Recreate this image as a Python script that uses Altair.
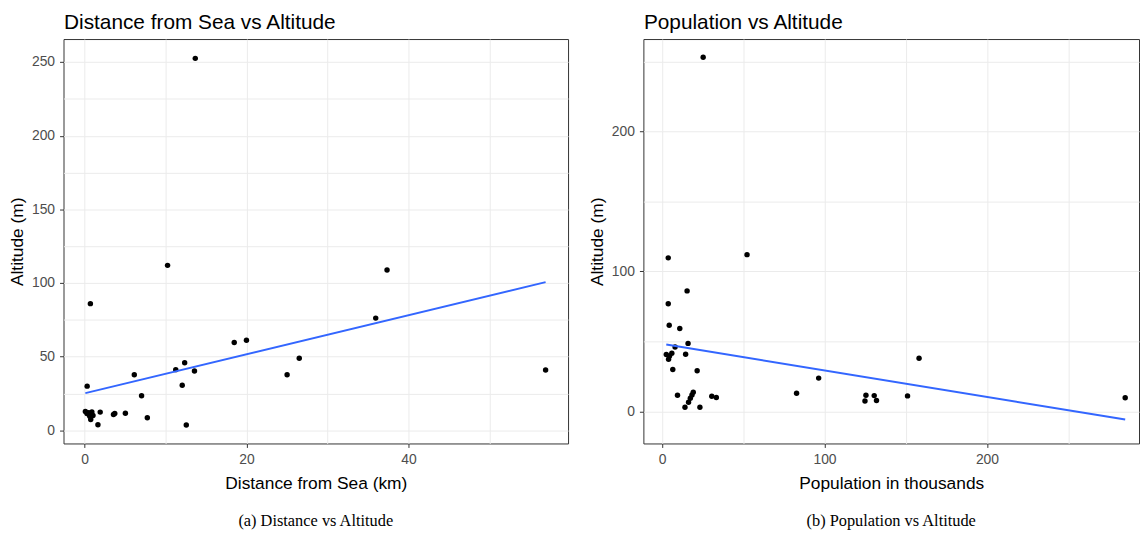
import altair as alt
import pandas as pd

# ---- data ----
dist_km = [13.67, 10.25, 37.35, 56.93, 0.72, 35.95, 18.48, 19.99, 26.51, 25.01,
           6.14, 12.36, 11.26, 13.57, 12.06, 0.32, 7.04, 12.56, 7.75, 3.57,
           3.73, 5.04, 1.93, 1.65, 0.1, 0.43, 0.64, 0.76, 1.04, 0.5, 0.9, 0.75, 0.3]
alt_by_dist = [252.5, 112, 108.9, 41, 86, 76.2, 59.6, 61.2, 49, 37.8,
               37.8, 45.9, 41.2, 40.3, 30.6, 30, 23.5, 3.6, 8.5, 10.8,
               11.4, 11.6, 12.4, 3.8, 12.8, 11.2, 9.6, 7.4, 10.1, 12, 12.5, 9.8, 11.5]

pop_k = [25.3, 52.3, 3.8, 15.4, 3.8, 4.4, 10.9, 16.0, 8.0, 2.6,
         4.6, 6.0, 14.5, 4.0, 158.2, 6.6, 21.6, 96.4, 9.5, 19.2,
         18.4, 17.4, 16.3, 14.1, 23.3, 30.6, 33.4, 82.8, 125.5, 124.9,
         130.6, 132.0, 151.1, 285.1]
alt_by_pop = [253, 112, 109.7, 86.1, 76.9, 61.6, 59.2, 48.6, 46.0, 40.6,
              39.6, 41.5, 40.8, 37.2, 38, 30.0, 29.0, 23.8, 11.5, 13.7,
              11.8, 9.4, 6.6, 3.0, 3.0, 10.8, 9.9, 13, 11.5, 7.5,
              11.3, 7.8, 11.1, 9.7]

df_a = pd.DataFrame({"dist": dist_km, "alt": alt_by_dist})
df_b = pd.DataFrame({"pop": pop_k, "alt": alt_by_pop})

SANS = "Liberation Sans"
SERIF = "Liberation Serif"


def make_axis(vals, major, title):
    return alt.Axis(
        values=vals,
        title=title,
        labelExpr=f"datum.value % {major} === 0 ? datum.label : ''",
        tickColor={"condition": {"test": f"datum.value % {major} !== 0",
                                 "value": "rgba(0,0,0,0)"},
                   "value": "#333333"},
    )


def panel(df, xf, xtitle, xdom, xvals, xmaj, ydom, yvals, ymaj, title, w, h, caption):
    xscale = alt.Scale(domain=xdom, nice=False, zero=False)
    yscale = alt.Scale(domain=ydom, nice=False, zero=False)
    xaxis = make_axis(xvals, xmaj, xtitle)
    pts = alt.Chart(df).mark_circle(size=30, color="black", opacity=1).encode(
        x=alt.X(f"{xf}:Q", scale=xscale, axis=xaxis),
        y=alt.Y("alt:Q", scale=yscale, axis=make_axis(yvals, ymaj, "Altitude (m)")),
    )
    line = (alt.Chart(df).transform_regression(xf, "alt")
            .mark_line(color="#3366FF", strokeWidth=2)
            .encode(x=alt.X(f"{xf}:Q", scale=xscale, axis=None),
                    y=alt.Y("alt:Q", scale=yscale, axis=None)))
    # top axis only carries the panel heading
    head = alt.Chart(df).mark_circle(opacity=0).encode(
        x=alt.X(f"{xf}:Q", scale=xscale,
                axis=alt.Axis(orient="top", title=title, labels=False, ticks=False,
                              grid=False, domain=False, titleAnchor="start",
                              titleFontSize=21, titlePadding=7)),
        y=alt.Y("alt:Q", scale=yscale, axis=None),
    )
    return (alt.layer(pts, line, head)
            .resolve_axis(x="independent", y="independent")
            .properties(
                width=w, height=h,
                title=alt.TitleParams(caption, orient="bottom", anchor="middle",
                                      frame="group", font=SERIF, fontSize=16.5,
                                      fontWeight="normal", color="black", offset=22),
            ))


left = panel(df_a, "dist", "Distance from Sea (km)", [-2.6, 59.7],
             [0, 10, 20, 30, 40, 50], 20,
             [-8.9, 265.6], [0, 25, 50, 75, 100, 125, 150, 175, 200, 225, 250], 50,
             "Distance from Sea vs Altitude", 509, 408, "(a) Distance vs Altitude")

right = panel(df_b, "pop", "Population in thousands", [-11.5, 293.6],
              [0, 50, 100, 150, 200, 250], 100,
              [-22.9, 266.0], [0, 50, 100, 150, 200, 250], 100,
              "Population vs Altitude", 500, 408, "(b) Population vs Altitude")

chart = (
    alt.hconcat(left, right, spacing=19, padding=0)
    .configure_view(stroke="#333333", strokeWidth=1)
    .configure_axis(
        domain=False,
        grid=True,
        gridColor="#EBEBEB",
        gridWidth=1,
        tickSize=4,
        labelFont=SANS,
        labelFontSize=14,
        labelColor="#4D4D4D",
        labelPadding=5,
        titleFont=SANS,
        titleFontSize=17.5,
        titleFontWeight="normal",
        titleColor="black",
        titlePadding=5,
    )
    .configure_axisBottom(titlePadding=8)
)

chart.save("out.html", embed_options={"renderer": "svg", "actions": False})
